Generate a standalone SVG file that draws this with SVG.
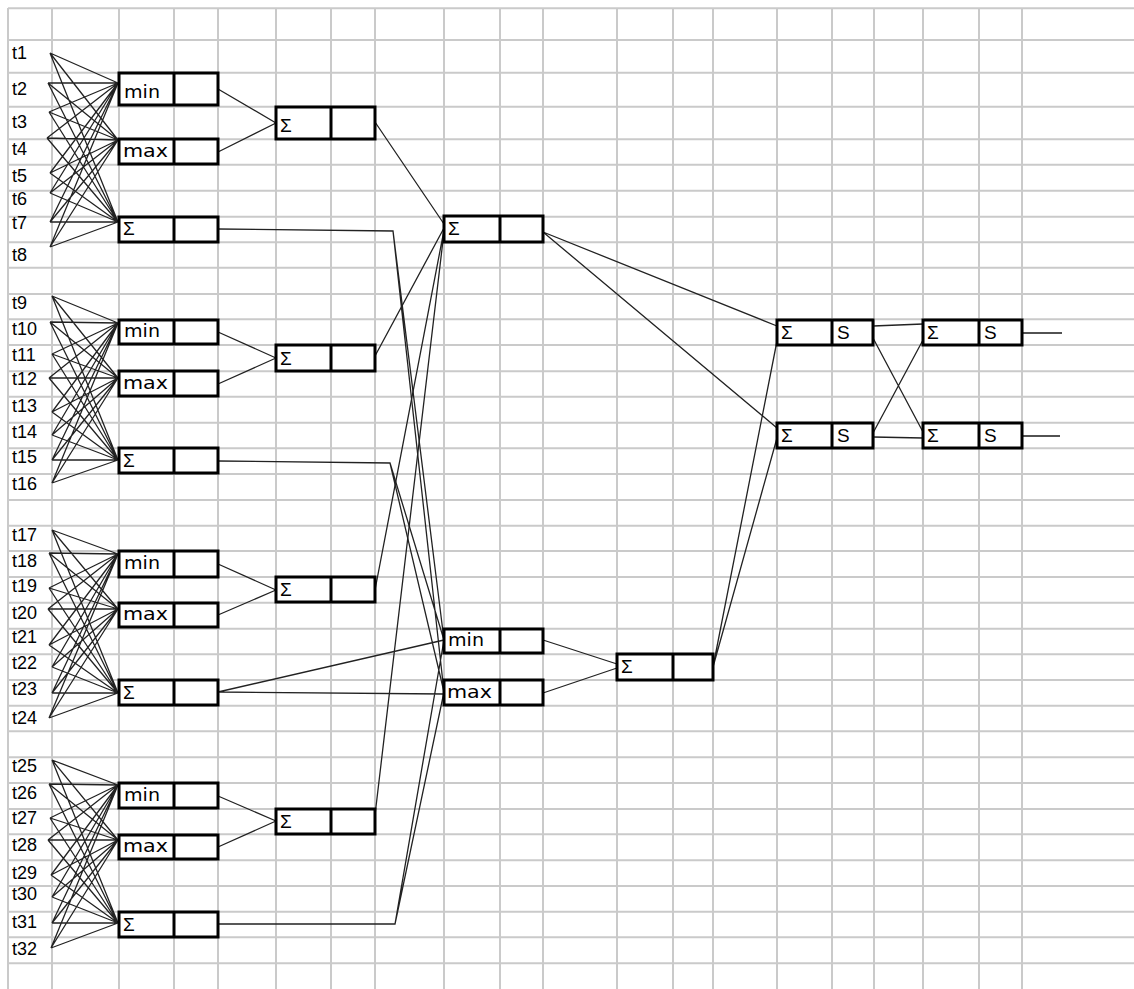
<svg xmlns="http://www.w3.org/2000/svg" width="1134" height="989" viewBox="0 0 1134 989">
<style>
.grid{stroke:#cacaca;stroke-width:2;fill:none}
.wire{stroke:#222;stroke-width:1.3;fill:none}
.out{stroke:#1a1a1a;stroke-width:1.6;fill:none}
.box{fill:#fff;stroke:#000;stroke-width:3}
.div{stroke:#000;stroke-width:3}
.lbl{font-family:"Liberation Sans",Arial,sans-serif;font-size:18px;fill:#000}
.op{font-family:"DejaVu Sans","Liberation Sans",sans-serif;font-size:18px;fill:#000}
.sg{font-family:"Liberation Sans",Arial,sans-serif;font-size:19px;fill:#000}
</style>
<rect width="1134" height="989" fill="#fff"/>

<!-- sheet grid -->
<path class="grid" d="M8 8V989M52 8V989M119 8V989M174 8V989M218 8V989M276 8V989M331 8V989M375 8V989M444 8V989M500 8V989M543 8V989M617 8V989M673 8V989M713 8V989M777 8V989M832 8V989M874 8V989M923 8V989M979 8V989M1022 8V989
M8 8.3H1134M8 40H1134M8 72.7H1134M8 106.7H1134M8 139.3H1134M8 164.7H1134M8 190.7H1134M8 216.7H1134M8 242.3H1134M8 267.7H1134M8 294H1134M8 319.3H1134M8 345H1134M8 371.3H1134M8 396.7H1134M8 422.7H1134M8 448.3H1134M8 474H1134M8 500H1134M8 525.7H1134M8 551H1134M8 577H1134M8 602.7H1134M8 628.7H1134M8 654.3H1134M8 680H1134M8 705.7H1134M8 731.3H1134M8 757.3H1134M8 783H1134M8 809H1134M8 834.3H1134M8 860.3H1134M8 886H1134M8 911.7H1134M8 937.3H1134M8 963.3H1134"/>

<!-- connectors -->
<g id="connectors">
  <!-- inputs t1..t8 -> min / max / sum -->
  <path class="wire" d="M50 53L118 83M50 53L118 140M50 53L118 222
    M48 83L118 83M48 83L118 140M48 83L118 222
    M49 112L118 83M49 112L118 140M49 112L118 222
    M47 138L118 83M47 138L118 140M47 138L118 222
    M50 173L118 83M50 173L118 140M50 173L118 222
    M50 193L118 83M50 193L118 140M50 193L118 222
    M50 222L118 83M50 222L118 140M50 222L118 222
    M50 247L118 83M50 247L118 140M50 247L118 222"/>
  <!-- inputs t9..t16 -->
  <path class="wire" d="M52 296L118 323M52 296L118 378M52 296L118 460
    M50 322L118 323M50 322L118 378M50 322L118 460
    M52 354L118 323M52 354L118 378M52 354L118 460
    M49 378L118 323M49 378L118 378M49 378L118 460
    M52 412L118 323M52 412L118 378M52 412L118 460
    M52 435L118 323M52 435L118 378M52 435L118 460
    M52 460L118 323M52 460L118 378M52 460L118 460
    M52 483L118 323M52 483L118 378M52 483L118 460"/>
  <!-- inputs t17..t24 -->
  <path class="wire" d="M52 530L118 554M52 530L118 609M52 530L118 693
    M49 553L118 554M49 553L118 609M49 553L118 693
    M49 588L118 554M49 588L118 609M49 588L118 693
    M48 609L118 554M48 609L118 609M48 609L118 693
    M49 645L118 554M49 645L118 609M49 645L118 693
    M52 667L118 554M52 667L118 609M52 667L118 693
    M52 693L118 554M52 693L118 609M52 693L118 693
    M49 718L118 554M49 718L118 609M49 718L118 693"/>
  <!-- inputs t25..t32 -->
  <path class="wire" d="M52 760L118 785M52 760L118 840M52 760L118 923
    M49 784L118 785M49 784L118 840M49 784L118 923
    M50 818L118 785M50 818L118 840M50 818L118 923
    M48 840L118 785M48 840L118 840M48 840L118 923
    M51 875L118 785M51 875L118 840M51 875L118 923
    M52 897L118 785M52 897L118 840M52 897L118 923
    M52 923L118 785M52 923L118 840M52 923L118 923
    M51 948L118 785M51 948L118 840M51 948L118 923"/>
  <!-- min/max -> group sums -->
  <path class="wire" d="M218 89L276 123M218 152L276 123
    M218 332L276 358M218 384L276 358
    M218 564L276 590M218 615L276 590
    M218 796L276 821M218 847L276 821"/>
  <!-- group sums -> central sum -->
  <path class="wire" d="M375 122L444 224M375 356L444 228M375 590L444 230M375 815L444 232"/>
  <!-- partial sums -> central min / max -->
  <path class="wire" d="M218 229L393 231L444 640M393 231L444 692
    M218 461L390 463L444 640M390 463L444 692
    M218 692L444 640M218 692L444 694
    M218 924L395 924L444 640M395 924L444 692"/>
  <!-- central min / max -> sum -->
  <path class="wire" d="M543 640L617 664M543 693L617 668"/>
  <!-- to the S stages -->
  <path class="wire" d="M543 232L777 326M543 232L777 428M713 667L777 341M713 667L777 438"/>
  <path class="wire" d="M873 326L923 324M873 338L923 432M873 433L923 340M873 437L923 438"/>
  <path class="out" d="M1022 333H1062M1022 436H1060"/>
</g>

<!-- input labels -->
<g id="t1"><text class="lbl" x="12" y="59">t1</text></g>
<g id="t2"><text class="lbl" x="12" y="95">t2</text></g>
<g id="t3"><text class="lbl" x="12" y="128">t3</text></g>
<g id="t4"><text class="lbl" x="12" y="155">t4</text></g>
<g id="t5"><text class="lbl" x="12" y="182">t5</text></g>
<g id="t6"><text class="lbl" x="12" y="205">t6</text></g>
<g id="t7"><text class="lbl" x="12" y="229">t7</text></g>
<g id="t8"><text class="lbl" x="12" y="261">t8</text></g>
<g id="t9"><text class="lbl" x="12" y="309">t9</text></g>
<g id="t10"><text class="lbl" x="12" y="335">t10</text></g>
<g id="t11"><text class="lbl" x="12" y="361">t11</text></g>
<g id="t12"><text class="lbl" x="12" y="385">t12</text></g>
<g id="t13"><text class="lbl" x="12" y="412">t13</text></g>
<g id="t14"><text class="lbl" x="12" y="438">t14</text></g>
<g id="t15"><text class="lbl" x="12" y="463">t15</text></g>
<g id="t16"><text class="lbl" x="12" y="490">t16</text></g>
<g id="t17"><text class="lbl" x="12" y="541">t17</text></g>
<g id="t18"><text class="lbl" x="12" y="567">t18</text></g>
<g id="t19"><text class="lbl" x="12" y="592">t19</text></g>
<g id="t20"><text class="lbl" x="12" y="619">t20</text></g>
<g id="t21"><text class="lbl" x="12" y="643">t21</text></g>
<g id="t22"><text class="lbl" x="12" y="669">t22</text></g>
<g id="t23"><text class="lbl" x="12" y="695">t23</text></g>
<g id="t24"><text class="lbl" x="12" y="724">t24</text></g>
<g id="t25"><text class="lbl" x="12" y="772">t25</text></g>
<g id="t26"><text class="lbl" x="12" y="799">t26</text></g>
<g id="t27"><text class="lbl" x="12" y="824">t27</text></g>
<g id="t28"><text class="lbl" x="12" y="851">t28</text></g>
<g id="t29"><text class="lbl" x="12" y="879">t29</text></g>
<g id="t30"><text class="lbl" x="12" y="900">t30</text></g>
<g id="t31"><text class="lbl" x="12" y="928">t31</text></g>
<g id="t32"><text class="lbl" x="12" y="955">t32</text></g>

<!-- group 1 -->
<g id="g1-min"><rect class="box" x="119" y="73" width="99" height="32"/><line class="div" x1="174" y1="73" x2="174" y2="105"/><text class="op" x="124" y="98" textLength="36" lengthAdjust="spacingAndGlyphs">min</text></g>
<g id="g1-max"><rect class="box" x="119" y="139" width="99" height="25"/><line class="div" x1="174" y1="139" x2="174" y2="164"/><text class="op" x="123" y="157" textLength="45" lengthAdjust="spacingAndGlyphs">max</text></g>
<g id="g1-sum"><rect class="box" x="119" y="217" width="99" height="25"/><line class="div" x1="174" y1="217" x2="174" y2="242"/><text class="sg" x="123" y="235">Σ</text></g>
<g id="g1-total"><rect class="box" x="276" y="107" width="99" height="32"/><line class="div" x1="331" y1="107" x2="331" y2="139"/><text class="sg" x="280" y="132">Σ</text></g>

<!-- group 2 -->
<g id="g2-min"><rect class="box" x="119" y="320" width="99" height="24"/><line class="div" x1="174" y1="320" x2="174" y2="344"/><text class="op" x="124" y="337" textLength="36" lengthAdjust="spacingAndGlyphs">min</text></g>
<g id="g2-max"><rect class="box" x="119" y="371" width="99" height="25"/><line class="div" x1="174" y1="371" x2="174" y2="396"/><text class="op" x="123" y="389" textLength="45" lengthAdjust="spacingAndGlyphs">max</text></g>
<g id="g2-sum"><rect class="box" x="119" y="448" width="99" height="25"/><line class="div" x1="174" y1="448" x2="174" y2="473"/><text class="sg" x="123" y="467">Σ</text></g>
<g id="g2-total"><rect class="box" x="276" y="345" width="99" height="26"/><line class="div" x1="331" y1="345" x2="331" y2="371"/><text class="sg" x="280" y="365">Σ</text></g>

<!-- group 3 -->
<g id="g3-min"><rect class="box" x="119" y="551" width="99" height="26"/><line class="div" x1="174" y1="551" x2="174" y2="577"/><text class="op" x="124" y="569" textLength="36" lengthAdjust="spacingAndGlyphs">min</text></g>
<g id="g3-max"><rect class="box" x="119" y="603" width="99" height="24"/><line class="div" x1="174" y1="603" x2="174" y2="627"/><text class="op" x="123" y="620" textLength="45" lengthAdjust="spacingAndGlyphs">max</text></g>
<g id="g3-sum"><rect class="box" x="119" y="680" width="99" height="25"/><line class="div" x1="174" y1="680" x2="174" y2="705"/><text class="sg" x="123" y="699">Σ</text></g>
<g id="g3-total"><rect class="box" x="276" y="577" width="99" height="25"/><line class="div" x1="331" y1="577" x2="331" y2="602"/><text class="sg" x="280" y="596">Σ</text></g>

<!-- group 4 -->
<g id="g4-min"><rect class="box" x="119" y="783" width="99" height="25"/><line class="div" x1="174" y1="783" x2="174" y2="808"/><text class="op" x="124" y="801" textLength="36" lengthAdjust="spacingAndGlyphs">min</text></g>
<g id="g4-max"><rect class="box" x="119" y="835" width="99" height="24"/><line class="div" x1="174" y1="835" x2="174" y2="859"/><text class="op" x="123" y="852" textLength="45" lengthAdjust="spacingAndGlyphs">max</text></g>
<g id="g4-sum"><rect class="box" x="119" y="912" width="99" height="25"/><line class="div" x1="174" y1="912" x2="174" y2="937"/><text class="sg" x="123" y="931">Σ</text></g>
<g id="g4-total"><rect class="box" x="276" y="809" width="99" height="25"/><line class="div" x1="331" y1="809" x2="331" y2="834"/><text class="sg" x="280" y="828">Σ</text></g>

<!-- central stage -->
<g id="c-sum"><rect class="box" x="444" y="216" width="99" height="26"/><line class="div" x1="500" y1="216" x2="500" y2="242"/><text class="sg" x="448" y="235">Σ</text></g>
<g id="c-min"><rect class="box" x="444" y="629" width="99" height="24"/><line class="div" x1="500" y1="629" x2="500" y2="653"/><text class="op" x="448" y="646" textLength="36" lengthAdjust="spacingAndGlyphs">min</text></g>
<g id="c-max"><rect class="box" x="444" y="680" width="99" height="25"/><line class="div" x1="500" y1="680" x2="500" y2="705"/><text class="op" x="447" y="698" textLength="45" lengthAdjust="spacingAndGlyphs">max</text></g>
<g id="c-range"><rect class="box" x="617" y="654" width="96" height="26"/><line class="div" x1="673" y1="654" x2="673" y2="680"/><text class="sg" x="621" y="673">Σ</text></g>

<!-- S stages -->
<g id="s1-top"><rect class="box" x="777" y="320" width="96" height="25"/><line class="div" x1="832" y1="320" x2="832" y2="345"/><text class="sg" x="781" y="339">Σ</text><text class="sg" x="837" y="339">S</text></g>
<g id="s1-bottom"><rect class="box" x="777" y="423" width="96" height="25"/><line class="div" x1="832" y1="423" x2="832" y2="448"/><text class="sg" x="781" y="442">Σ</text><text class="sg" x="837" y="442">S</text></g>
<g id="s2-top"><rect class="box" x="923" y="320" width="99" height="25"/><line class="div" x1="979" y1="320" x2="979" y2="345"/><text class="sg" x="927" y="339">Σ</text><text class="sg" x="984" y="339">S</text></g>
<g id="s2-bottom"><rect class="box" x="923" y="423" width="99" height="25"/><line class="div" x1="979" y1="423" x2="979" y2="448"/><text class="sg" x="927" y="442">Σ</text><text class="sg" x="984" y="442">S</text></g>
</svg>
